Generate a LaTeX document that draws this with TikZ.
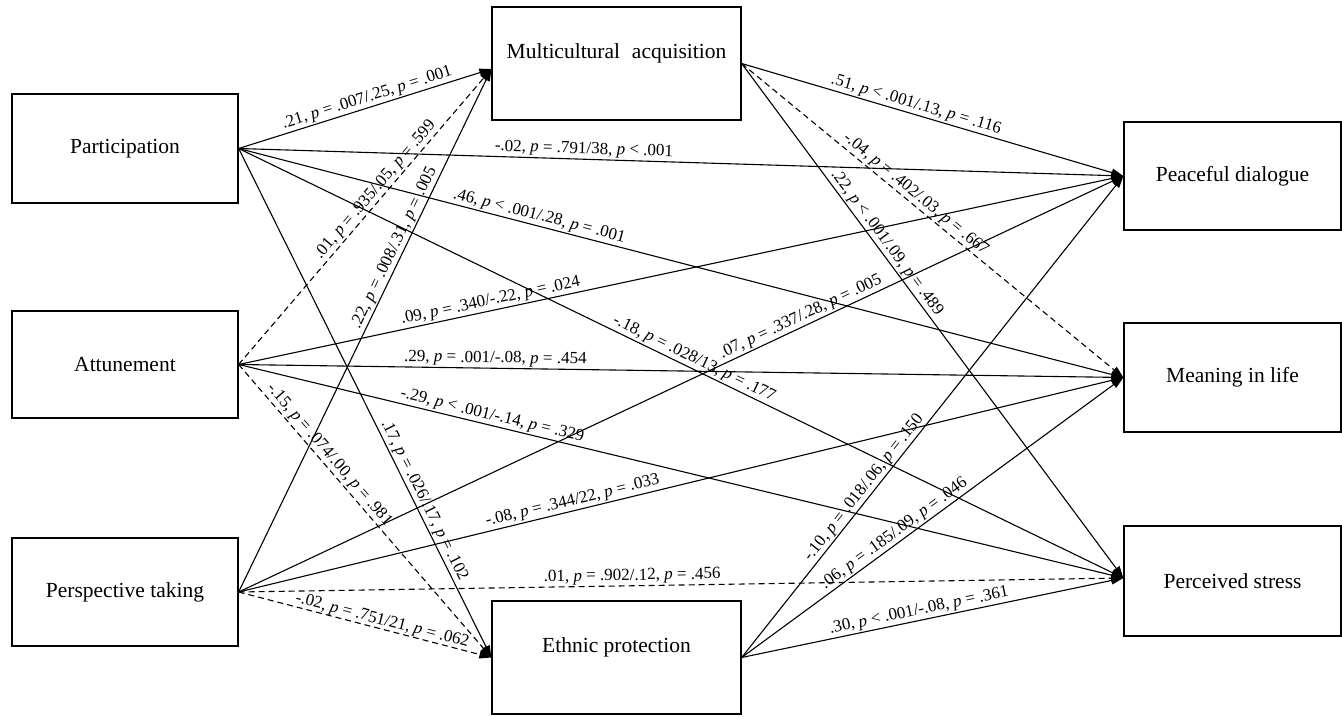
\documentclass[tikz,border=0pt]{standalone}
\usepackage{fontspec}
\setmainfont{Liberation Serif}
\usetikzlibrary{arrows.meta}
\tikzset{
  box/.style={draw, line width=1.3pt, rectangle, inner sep=0pt, font=\fontsize{21.5}{24}\selectfont},
  boxtext/.style={inner sep=0pt, font=\fontsize{21.5}{24}\selectfont},
  conn/.style={line width=1.1pt, -{Triangle[length=12pt,width=8pt]}},
  dsh/.style={dash pattern=on 6pt off 4pt},
  lab/.style={font=\fontsize{17}{19}\selectfont, sloped, above, inner sep=1.5pt}
}
\newcommand{\pp}{\textit{p}}
\begin{document}
\begin{tikzpicture}[x=1pt,y=-1pt]
\useasboundingbox (0,0) rectangle (1342,717);
% left boxes
\node[box, minimum width=226pt, minimum height=109pt] (P) at (125,148.5) {Participation};
\node[box, minimum width=226pt, minimum height=107pt] (A) at (125,364.5) {Attunement};
\node[box, minimum width=226pt, minimum height=108pt] (T) at (125,592) {Perspective taking};
% middle boxes
\node[box, minimum width=249pt, minimum height=113pt] (MA) at (616.5,63.5) {};
\node[boxtext] (MAt) at (616.5,53) {Multicultural\hspace{0.3em} acquisition};
\node[box, minimum width=249pt, minimum height=113pt] (EP) at (616.5,657.5) {};
\node[boxtext] (EPt) at (616.5,647) {Ethnic protection};
% right boxes
\node[box, minimum width=217pt, minimum height=108pt] (PD) at (1232.5,176) {Peaceful dialogue};
\node[box, minimum width=217pt, minimum height=109pt] (ML) at (1232.5,377.5) {Meaning in life};
\node[box, minimum width=217pt, minimum height=110pt] (PS) at (1232.5,581) {Perceived stress};
\coordinate (MAin) at ([yshift=-5.5pt]MA.west);
\coordinate (PSin) at ([yshift=3pt]PS.west);
% from Participation
\draw[conn] (P.east) -- node[lab,pos=0.52]{.21, \pp{} = .007/.25, \pp{} = .001} (MAin);
\draw[conn] (P.east) -- node[lab,pos=0.39]{-.02, \pp{} = .791/38, \pp{} < .001} (PD.west);
\draw[conn] (P.east) -- node[lab,pos=0.337]{.46, \pp{} < .001/.28, \pp{} = .001} (ML.west);
\draw[conn] (P.east) -- node[lab,pos=0.51]{-.18, \pp{} = .028/13, \pp{} = .177} (PSin);
\draw[conn] (P.east) -- node[lab,pos=0.70]{.17, \pp{} = .026/.17, \pp{} = .102} (EP.west);
% from Attunement
\draw[conn,dsh] (A.east) -- node[lab,pos=0.57]{.01, \pp{} = .935/.05, \pp{} = .599} (MAin);
\draw[conn] (A.east) -- node[lab,pos=0.287]{.09, \pp{} = .340/-.22, \pp{} = .024} (PD.west);
\draw[conn] (A.east) -- node[lab,pos=0.29]{.29, \pp{} = .001/-.08, \pp{} = .454} (ML.west);
\draw[conn] (A.east) -- node[lab,pos=0.284]{-.29, \pp{} < .001/-.14, \pp{} = .329} (PSin);
\draw[conn,dsh] (A.east) -- node[lab,pos=0.33]{-.15, \pp{} = .074/.00, \pp{} = .981} (EP.west);
% from Perspective taking
\draw[conn] (T.east) -- node[lab,pos=0.65]{.22, \pp{} = .008/.31, \pp{} = .005} (MAin);
\draw[conn] (T.east) -- node[lab,pos=0.64]{.07, \pp{} = .337/.28, \pp{} = .005} (PD.west);
\draw[conn] (T.east) -- node[lab,pos=0.38]{-.08, \pp{} = .344/22, \pp{} = .033} (ML.west);
\draw[conn,dsh] (T.east) -- node[lab,pos=0.445]{.01, \pp{} = .902/.12, \pp{} = .456} (PSin);
\draw[conn,dsh] (T.east) -- node[lab,pos=0.56,inner sep=0pt]{-.02, \pp{} = .751/21, \pp{} = .062} (EP.west);
% from Multicultural acquisition
\draw[conn] (MA.east) -- node[lab,pos=0.45]{.51, \pp{} < .001/.13, \pp{} = .116} (PD.west);
\draw[conn,dsh] (MA.east) -- node[lab,pos=0.44]{-.04, \pp{} = .402/.03, \pp{} = .667} (ML.west);
\draw[conn] (MA.east) -- node[lab,pos=0.36]{.22, \pp{} < .001/.09, \pp{} = .489} (PSin);
% from Ethnic protection
\draw[conn] (EP.east) -- node[lab,pos=0.34]{-.10, \pp{} = .018/.06, \pp{} = .150} (PD.west);
\draw[conn] (EP.east) -- node[lab,pos=0.415]{.06, \pp{} = .185/.09, \pp{} = .046} (ML.west);
\draw[conn] (EP.east) -- node[lab,pos=0.47]{.30, \pp{} < .001/-.08, \pp{} = .361} (PSin);
\end{tikzpicture}
\end{document}
